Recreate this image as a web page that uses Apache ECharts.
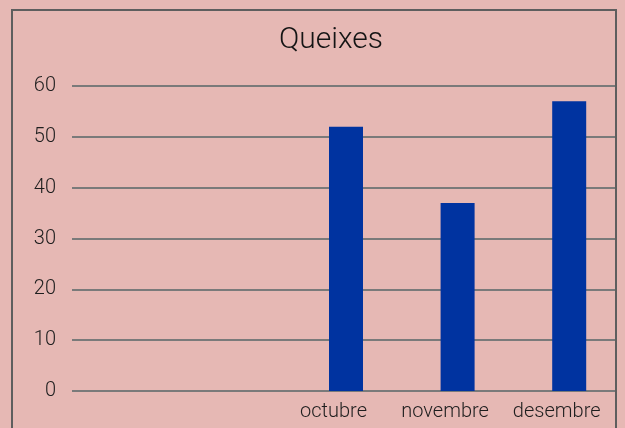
<!DOCTYPE html>
<html>
<head>
<meta charset="utf-8">
<style>
  html, body { margin: 0; padding: 0; background: #e6b8b4; }
  #chart { width: 625px; height: 428px; }
</style>
<script src="https://cdn.jsdelivr.net/npm/echarts@6/dist/echarts.min.js"></script>
</head>
<body>
<div id="chart"></div>
<script>
// Monthly complaint counts
const categories = ['', '', 'octubre', 'novembre', 'desembre'];
const queixes = [null, null, 52, 37, 57];
const yTicks = { min: 0, max: 60, interval: 10 };

const BG = '#e6b8b4';
const labelFont = { fontFamily: 'Roboto', fontWeight: 300, color: '#1e1e1e' };

const chart = echarts.init(document.getElementById('chart'), null, { renderer: 'canvas' });
chart.setOption({
  backgroundColor: BG,
  animation: false,
  title: {
    text: 'Queixes',
    left: 326,
    textAlign: 'center',
    top: 20,
    textStyle: Object.assign({ fontSize: 30 }, labelFont, { color: '#141414' })
  },
  graphic: [
    // trim the grid lines to the frame on the right and to x=72 on the left
    { type: 'rect', shape: { x: 617, y: 0, width: 10, height: 428 }, style: { fill: BG }, z: 9 },
    { type: 'rect', shape: { x: 60, y: 75, width: 12, height: 325 }, style: { fill: BG }, z: 9 },
    // frame
    { type: 'rect', shape: { x: 12, y: 10, width: 604, height: 440 },
      style: { fill: 'none', stroke: '#5e5e5e', lineWidth: 2 }, z: 10 }
  ],
  grid: { left: 67, right: 0, top: 86, bottom: 37 },
  xAxis: {
    type: 'category',
    data: categories,
    axisTick: { show: false },
    axisLine: { show: true, lineStyle: { color: '#7a7a7a', width: 2 } },
    axisLabel: Object.assign({ fontSize: 20, margin: 11, interval: 0, padding: [0, 25, 0, 0] }, labelFont)
  },
  yAxis: {
    type: 'value',
    min: yTicks.min,
    max: yTicks.max,
    interval: yTicks.interval,
    axisLine: { show: false },
    axisTick: { show: false },
    splitLine: { lineStyle: { color: '#7a7a7a', width: 2 } },
    axisLabel: Object.assign({ fontSize: 20, margin: 11 }, labelFont)
  },
  series: [{
    type: 'bar',
    data: queixes,
    barWidth: 34,
    itemStyle: { color: '#0033a0' }
  }]
});
</script>
</body>
</html>
